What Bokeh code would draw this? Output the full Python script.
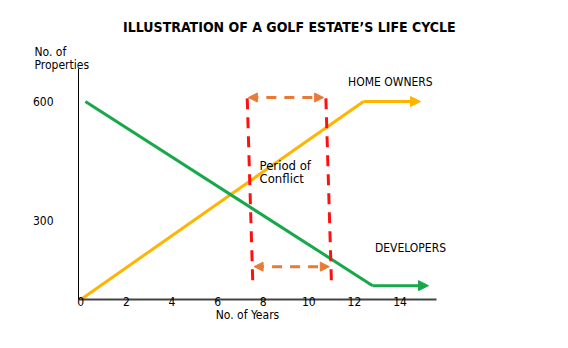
from bokeh.plotting import figure
from bokeh.models import Range1d, Label, Arrow, NormalHead, FixedTicker
from bokeh.embed import file_html
from bokeh.resources import INLINE

# ---- data ----
home_years = [0.0, 12.4, 14.9]
home_props = [100, 600, 600]
dev_years = [0.2, 12.8, 15.25]
dev_props = [600, 135, 135]

conflict_left_x = [7.3, 7.55]
conflict_right_x = [10.75, 11.0]
conflict_y = [608, 130]
top_arrow_x = [7.35, 10.65]
top_arrow_y = 610
bottom_arrow_x = [7.6, 10.9]
bottom_arrow_y = 183

x_ticks = [0, 2, 4, 6, 8, 10, 12, 14]
y_ticks = [300, 600]
x_axis_extent = (-0.1, 15.6)
y_axis_extent = (100, 683)

FONT = "DejaVu Sans Condensed"
ORANGE = "#FFB500"
GREEN = "#17A84A"
RED = "#FF1010"
DASH_ORANGE = "#E97A35"

p = figure(width=568, height=348, output_backend="svg", toolbar_location=None,
           x_range=Range1d(-3.521, 21.39), y_range=Range1d(-23.74, 855.05),
           min_border=0)
p.outline_line_color = None
p.grid.visible = False
p.background_fill_color = "white"
p.border_fill_color = "white"

# axes, drawn inside the frame at the origin
xa = p.xaxis[0]
xa.fixed_location = y_axis_extent[0]
xa.bounds = x_axis_extent
xa.ticker = FixedTicker(ticks=x_ticks)
xa.axis_line_color = "#444444"
xa.axis_line_width = 2
xa.major_tick_line_color = None
xa.minor_tick_line_color = None
xa.major_label_standoff = -8
xa.major_label_text_font = FONT
xa.major_label_text_font_size = "12px"
xa.major_label_text_color = "black"

ya = p.yaxis[0]
ya.fixed_location = x_axis_extent[0]
ya.bounds = y_axis_extent
ya.ticker = FixedTicker(ticks=y_ticks)
ya.axis_line_color = "black"
ya.axis_line_width = 1
ya.major_tick_line_color = None
ya.minor_tick_line_color = None
ya.major_label_standoff = 19
ya.major_label_text_font = FONT
ya.major_label_text_font_size = "12px"
ya.major_label_text_color = "black"

# series lines
p.line(home_years[:2], home_props[:2], line_color=ORANGE, line_width=3)
p.add_layout(Arrow(x_start=home_years[1], y_start=home_props[1],
                   x_end=home_years[2], y_end=home_props[2],
                   line_color=ORANGE, line_width=3,
                   end=NormalHead(size=10, fill_color=ORANGE, line_color=ORANGE)))
p.line(dev_years[:2], dev_props[:2], line_color=GREEN, line_width=3)
p.add_layout(Arrow(x_start=dev_years[1], y_start=dev_props[1],
                   x_end=dev_years[2], y_end=dev_props[2],
                   line_color=GREEN, line_width=3,
                   end=NormalHead(size=10, fill_color=GREEN, line_color=GREEN)))

# conflict period
p.line(conflict_left_x, conflict_y, line_color=RED, line_width=3, line_dash="11 8")
p.line(conflict_right_x, conflict_y, line_color=RED, line_width=3, line_dash="11 8")
for xs, yv in ((top_arrow_x, top_arrow_y), (bottom_arrow_x, bottom_arrow_y)):
    p.add_layout(Arrow(x_start=xs[0], y_start=yv, x_end=xs[1], y_end=yv,
                       line_color=DASH_ORANGE, line_width=3, line_dash="10 8",
                       start=NormalHead(size=9, fill_color=DASH_ORANGE, line_color=DASH_ORANGE),
                       end=NormalHead(size=9, fill_color=DASH_ORANGE, line_color=DASH_ORANGE)))

def lab(x, y, text, size="12px", align="left", bold=False):
    p.add_layout(Label(x=x, y=y, text=text, text_font=FONT, text_font_size=size,
                       text_align=align, text_baseline="middle", text_color="black",
                       text_font_style="bold" if bold else "normal"))

lab(9.15, 787, "ILLUSTRATION OF A GOLF ESTATE\u2019S LIFE CYCLE", size="14px",
    align="center", bold=True)
lab(-2.03, 726, "No. of")
lab(-2.03, 691, "Properties")
lab(13.58, 648, "HOME OWNERS", align="center")
lab(14.46, 231, "DEVELOPERS", align="center")
lab(7.84, 438, "Period of", size="13px")
lab(7.84, 405, "Conflict", size="13px")
lab(7.31, 60, "No. of Years", align="center")

open("out.html", "w").write(file_html(p, INLINE))
